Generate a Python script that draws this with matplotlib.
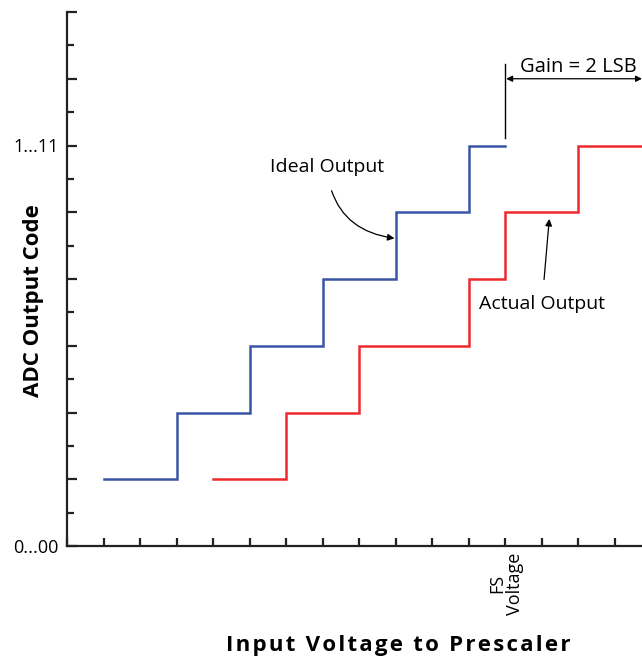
import matplotlib
matplotlib.use("Agg")
import matplotlib.pyplot as plt
from matplotlib.ticker import MultipleLocator

plt.rcParams["font.family"] = ["Open Sans", "DejaVu Sans"]

# step transfer curves (x in LSB steps of input voltage, y in output code steps)
ideal_x = [1, 3, 3, 5, 5, 7, 7, 9, 9, 11, 11, 12]
ideal_y = [1, 1, 2, 2, 3, 3, 4, 4, 5, 5, 6, 6]
actual_x = [4, 6, 6, 8, 8, 11, 11, 12, 12, 14, 14, 15.75]
actual_y = [1, 1, 2, 2, 3, 3, 4, 4, 5, 5, 6, 6]

ytick_pos = [0, 6]
ytick_labels = ["0...00", "1...11"]
fs_x = 12

BLUE = "#3a55a5"
RED = "#ee2a2e"


def spaced(s, gap="\u200a"):
    # crude letter spacing, the original uses tracked type
    return gap.join(s)


fig = plt.figure(figsize=(6.42, 6.60), dpi=100)
ax = fig.add_axes([67 / 642, 114 / 660, 1 - 67 / 642, (546 - 12) / 660])

ax.plot(ideal_x, ideal_y, color=BLUE, lw=1.8, solid_joinstyle="miter")
ax.plot(actual_x, actual_y, color=RED, lw=1.8, solid_joinstyle="miter", clip_on=False)

ax.set_xlim(0, 15.75)
ax.set_ylim(0, 8)

for s in ["top", "right"]:
    ax.spines[s].set_visible(False)
for s in ["left", "bottom"]:
    ax.spines[s].set_linewidth(1.6)
    ax.spines[s].set_color("#222222")

ax.xaxis.set_major_locator(MultipleLocator(1))
ax.yaxis.set_major_locator(MultipleLocator(1))
ax.yaxis.set_minor_locator(MultipleLocator(0.5))
ax.tick_params(axis="x", which="major", direction="in", length=6, width=1.6,
               color="#222222", labelbottom=False)
ax.tick_params(axis="y", which="major", direction="in", length=7.5, width=1.6,
               color="#222222", pad=6, labelsize=13)
ax.tick_params(axis="y", which="minor", direction="in", length=5, width=1.6,
               color="#222222")
ax.set_yticks(range(0, 9))
ax.set_yticklabels([ytick_labels[ytick_pos.index(i)] if i in ytick_pos else ""
                    for i in range(0, 9)])

fig.text(34 / 642, 1 - 301 / 660, "ADC Output Code", fontsize=16,
         fontweight="bold", rotation=90, ha="center", va="center")
fig.text(398 / 642, 1 - 645 / 660, spaced("Input Voltage to Prescaler"),
         fontsize=16, fontweight="bold", ha="center", va="center")

ax.text(fs_x + 0.02, -0.1, "FS\nVoltage", rotation=90, ha="center", va="top",
        fontsize=13, multialignment="center", linespacing=1.0)

# gain annotation
ax.plot([fs_x, fs_x], [6.11, 7.22], color="black", lw=1.0, clip_on=False)
ax.annotate("", xy=(15.75, 7.0), xytext=(fs_x + 0.03, 7.0),
            arrowprops=dict(arrowstyle="<|-|>", color="black", lw=0.9,
                            mutation_scale=9, shrinkA=0, shrinkB=0),
            annotation_clip=False)
ax.text(12.41, 7.18, "Gain = 2 LSB", fontsize=14.5, ha="left", va="center")

ax.annotate("Ideal Output", xy=(8.97, 4.61), xytext=(7.12, 5.68),
            fontsize=14, ha="center", va="center",
            arrowprops=dict(arrowstyle="-|>", color="black", lw=0.9,
                            mutation_scale=10, shrinkA=9, shrinkB=0,
                            connectionstyle="arc3,rad=0.4"))
ax.annotate("Actual Output", xy=(13.21, 4.9), xytext=(13.01, 3.63),
            fontsize=14, ha="center", va="center",
            arrowprops=dict(arrowstyle="-|>", color="black", lw=0.9,
                            mutation_scale=10, shrinkA=9, shrinkB=0))

fig.savefig("out.png", dpi=100)
